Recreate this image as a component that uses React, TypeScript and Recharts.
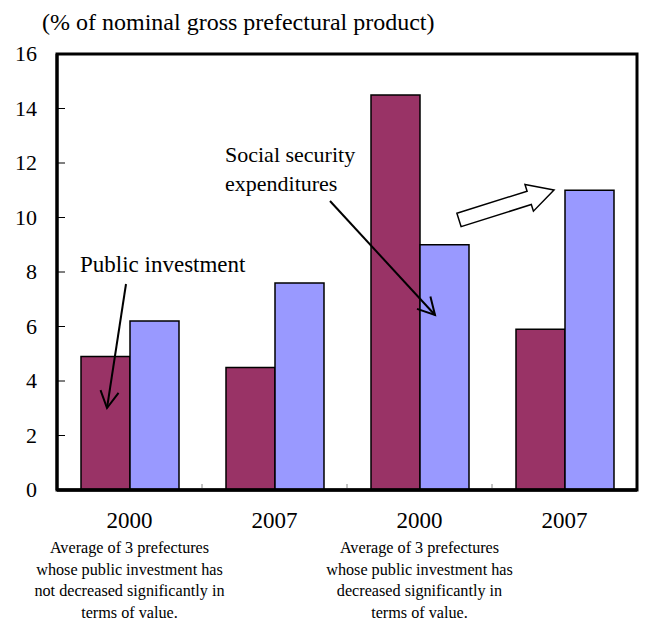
import React from 'react';
import { BarChart, Bar, XAxis, YAxis } from 'recharts';

const years = ['2000', '2007', '2000', '2007'];
const publicInvestment = [4.9, 4.5, 14.5, 5.9];
const socialSecurity = [6.2, 7.6, 9.0, 11.0];
const yTicks = [0, 2, 4, 6, 8, 10, 12, 14, 16];
const groupNotes = [
  ['Average of 3 prefectures', 'whose public investment has', 'not decreased significantly in', 'terms of value.'],
  [],
  ['Average of 3 prefectures', 'whose public investment has', 'decreased significantly in', 'terms of value.'],
  [],
];

const data = years.map((year, i) => ({
  year,
  publicInvestment: publicInvestment[i],
  socialSecurity: socialSecurity[i],
}));

const W = 645;
const H = 621;
const FONT = '"Liberation Serif", "Times New Roman", serif';
const PLOT = { left: 57, top: 54, right: 637, bottom: 490 };
const BAND = (PLOT.right - PLOT.left) / years.length;
const serif = { fontFamily: FONT };

const ValueTick = ({ x, y, payload }: any) => (
  <g>
    <text x={x} y={y + 7} textAnchor="end" fontSize={22} style={serif} fill="#000">
      {payload.value}
    </text>
    {payload.value > 0 && payload.value < 16 && (
      <line x1={x + 20} x2={x + 28} y1={y} y2={y} stroke="#000" strokeWidth={1} />
    )}
  </g>
);

const CategoryTick = ({ x, y, payload, index }: any) => (
  <g fill="#000">
    <text x={x} y={y + 38} textAnchor="middle" fontSize={23} style={serif}>
      {payload.value}
    </text>
    {(groupNotes[index] || []).map((line, i) => (
      <text key={i} x={x} y={y + 63 + i * 21.7} textAnchor="middle" fontSize={16.2} style={serif}>
        {line}
      </text>
    ))}
    {index > 0 && (
      <line x1={x - BAND / 2} x2={x - BAND / 2} y1={y - 2} y2={y - 6} stroke="#888" strokeWidth={1} />
    )}
  </g>
);

// line with an open two-stroke arrowhead at the end
function OpenArrow({ x1, y1, x2, y2 }: any) {
  const a = Math.atan2(y2 - y1, x2 - x1);
  const len = 19;
  const spread = 0.5;
  const p1 = [x2 - len * Math.cos(a - spread), y2 - len * Math.sin(a - spread)];
  const p2 = [x2 - len * Math.cos(a + spread), y2 - len * Math.sin(a + spread)];
  return (
    <g stroke="#000" strokeWidth={2} fill="none">
      <line x1={x1} y1={y1} x2={x2} y2={y2} />
      <polyline points={`${p1[0]},${p1[1]} ${x2},${y2} ${p2[0]},${p2[1]}`} />
    </g>
  );
}

// hollow block arrow from tail centre to tip
function BlockArrow({ x1, y1, x2, y2 }: any) {
  const d = Math.hypot(x2 - x1, y2 - y1);
  const ux = (x2 - x1) / d;
  const uy = (y2 - y1) / d;
  const nx = -uy;
  const ny = ux;
  const shaft = 7;
  const head = 14;
  const headLen = 26;
  const bx = x2 - headLen * ux;
  const by = y2 - headLen * uy;
  const pts = [
    [x1 - shaft * nx, y1 - shaft * ny],
    [bx - shaft * nx, by - shaft * ny],
    [bx - head * nx, by - head * ny],
    [x2, y2],
    [bx + head * nx, by + head * ny],
    [bx + shaft * nx, by + shaft * ny],
    [x1 + shaft * nx, y1 + shaft * ny],
  ];
  return <polygon points={pts.map((p) => p.join(',')).join(' ')} fill="#fff" stroke="#000" strokeWidth={1.5} />;
}

export default function App() {
  return (
    <div style={{ position: 'absolute', left: 0, top: 0, width: W, height: H, background: '#fff', fontFamily: FONT }}>
      <BarChart
        width={W}
        height={H}
        data={data}
        margin={{ top: PLOT.top, right: W - PLOT.right, bottom: 0, left: 7 }}
        barCategoryGap={24}
        barGap={0}
      >
        <XAxis
          dataKey="year"
          height={H - PLOT.bottom}
          axisLine={{ stroke: '#000', strokeWidth: 3.5 }}
          tickLine={false}
          tickSize={0}
          tickMargin={0}
          interval={0}
          tick={<CategoryTick />}
        />
        <YAxis
          width={50}
          domain={[0, 16]}
          ticks={yTicks}
          interval={0}
          axisLine={{ stroke: '#000', strokeWidth: 3 }}
          tickLine={false}
          tickSize={0}
          tickMargin={20}
          tick={<ValueTick />}
        />
        <Bar dataKey="publicInvestment" fill="#993366" stroke="#000" strokeWidth={1.5} isAnimationActive={false} />
        <Bar dataKey="socialSecurity" fill="#9999FF" stroke="#000" strokeWidth={1.5} isAnimationActive={false} />
      </BarChart>

      <svg width={W} height={H} style={{ position: 'absolute', left: 0, top: 0, pointerEvents: 'none', ...serif }}>
        <rect
          x={PLOT.left}
          y={PLOT.top}
          width={PLOT.right - PLOT.left}
          height={PLOT.bottom - PLOT.top}
          fill="none"
          stroke="#000"
          strokeWidth={3}
        />
        <text x={42} y={30} fontSize={24} fill="#000" style={serif}>
          (% of nominal gross prefectural product)
        </text>
        <text x={80} y={272} fontSize={23} fill="#000" style={serif}>
          Public investment
        </text>
        <OpenArrow x1={126} y1={284} x2={107} y2={408} />
        <text x={225} y={162} fontSize={22} fill="#000" style={serif}>
          Social security
        </text>
        <text x={225} y={191} fontSize={22} fill="#000" style={serif}>
          expenditures
        </text>
        <OpenArrow x1={330} y1={201} x2={435} y2={315} />
        <BlockArrow x1={459} y1={220} x2={554} y2={190} />
      </svg>
    </div>
  );
}
